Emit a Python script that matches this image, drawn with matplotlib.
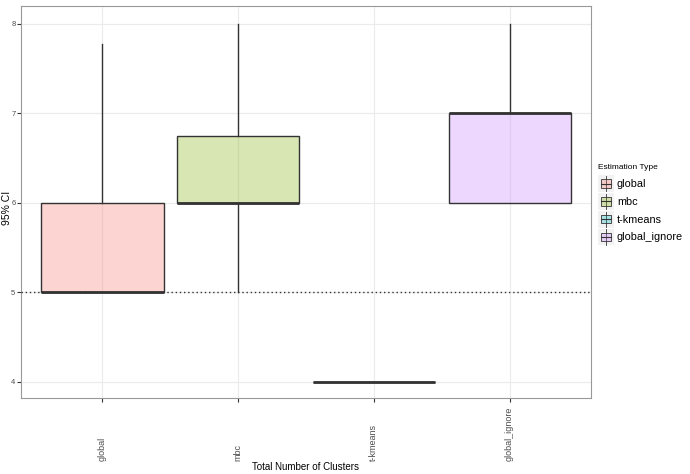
import matplotlib.pyplot as plt
import matplotlib.colors as mcolors
import matplotlib.patches as mpatches
from matplotlib.patches import Patch
from matplotlib.legend_handler import HandlerPatch

plt.rcParams['font.family'] = ['Liberation Sans', 'DejaVu Sans']

# box summaries
labels = ["global", "mbc", "t-kmeans", "global_ignore"]
q1 = [5, 6, 4, 6]
med = [5, 6, 4, 7]
q3 = [6, 6.75, 4, 7]
whislo = [5, 5, 4, 6]
whishi = [7.77, 8, 4, 8]
colors = ["#F8766D", "#7CAE00", "#00BFC4", "#C77CFF"]
ref_line = 5

fig = plt.figure(figsize=(6.9, 4.74), dpi=100)
ax = fig.add_axes([21 / 690, 1 - 398 / 474, 570 / 690, 392 / 474])

stats = []
for i in range(len(labels)):
    stats.append(dict(label=labels[i], q1=q1[i], med=med[i], q3=q3[i],
                      whislo=whislo[i], whishi=whishi[i], fliers=[]))

pos = list(range(1, len(labels) + 1))
bp = ax.bxp(stats, positions=pos, widths=0.9, patch_artist=True,
            showcaps=False, showfliers=False,
            boxprops=dict(edgecolor="#333333", linewidth=1.0),
            whiskerprops=dict(color="#333333", linewidth=1.0),
            medianprops=dict(color="#333333", linewidth=2.0, solid_capstyle="butt"),
            zorder=3)
for patch, c in zip(bp["boxes"], colors):
    patch.set_facecolor(mcolors.to_rgba(c, 0.3))
    patch.set_edgecolor("#333333")

ax.axhline(ref_line, color="#333333", linestyle=(0, (1, 2)), linewidth=1.0, zorder=4)

ax.set_xlim(0.4, 4.6)
ax.set_ylim(3.82, 8.2)
ax.set_yticks([4, 5, 6, 7, 8])
ax.set_xticks(pos)
ax.set_xticklabels(labels, rotation=90, fontsize=6.5, color="#4D4D4D", va="bottom")
ax.tick_params(axis="x", pad=42.5)
ax.tick_params(axis="y", labelsize=5.5, labelcolor="#4D4D4D", pad=1)
ax.tick_params(length=3, color="#333333", width=0.8)
ax.grid(True, color="#EBEBEB", linewidth=0.8, zorder=0)
ax.set_axisbelow(True)
for s in ax.spines.values():
    s.set_color("#999999")
    s.set_linewidth(0.8)

ax.set_xlabel("Total Number of Clusters", fontsize=7)
ax.xaxis.set_label_coords(0.5, (398 - 467) / 392)
ax.xaxis.label.set_va("center")
ax.set_ylabel("95% CI", fontsize=7.5)
ax.yaxis.set_label_coords((7.5 - 21) / 570, (398 - 208) / 392)
ax.yaxis.label.set_va("center")


# legend key drawn like a small box glyph
class BoxKey(HandlerPatch):
    def create_artists(self, legend, orig, xd, yd, w, h, fs, trans):
        x0, y0 = -xd, -yd
        cx = x0 + w / 2
        bg = mpatches.Rectangle((x0, y0), w, h,
                                facecolor="#F2F2F2", edgecolor="none", transform=trans)
        l1 = plt.Line2D([cx, cx], [y0 + h * 0.05, y0 + h * 0.95], color="#333333",
                        linewidth=0.6, transform=trans)
        r = mpatches.Rectangle((x0 + 2, y0 + h * 0.25), w - 4, h * 0.5,
                               facecolor=orig.get_facecolor(), edgecolor="#333333",
                               linewidth=0.6, transform=trans)
        l2 = plt.Line2D([x0 + 2, x0 + w - 2], [y0 + h / 2, y0 + h / 2],
                        color="#333333", linewidth=0.8, transform=trans)
        return [bg, l1, r, l2]


handles = [Patch(facecolor=mcolors.to_rgba(c, 0.3)) for c in colors]
leg = fig.legend(handles, labels, title="Estimation Type", loc="upper left",
                 bbox_to_anchor=(598 / 690, 1 - 164 / 474), frameon=False,
                 fontsize=7.8, title_fontsize=6, handler_map={Patch: BoxKey()},
                 handlelength=1.5, handleheight=2.0, handletextpad=0.25,
                 labelspacing=0.1, borderaxespad=0, borderpad=0)
leg._legend_box.align = "left"
leg._legend_box.sep = 3

fig.savefig("out.png", dpi=100)
